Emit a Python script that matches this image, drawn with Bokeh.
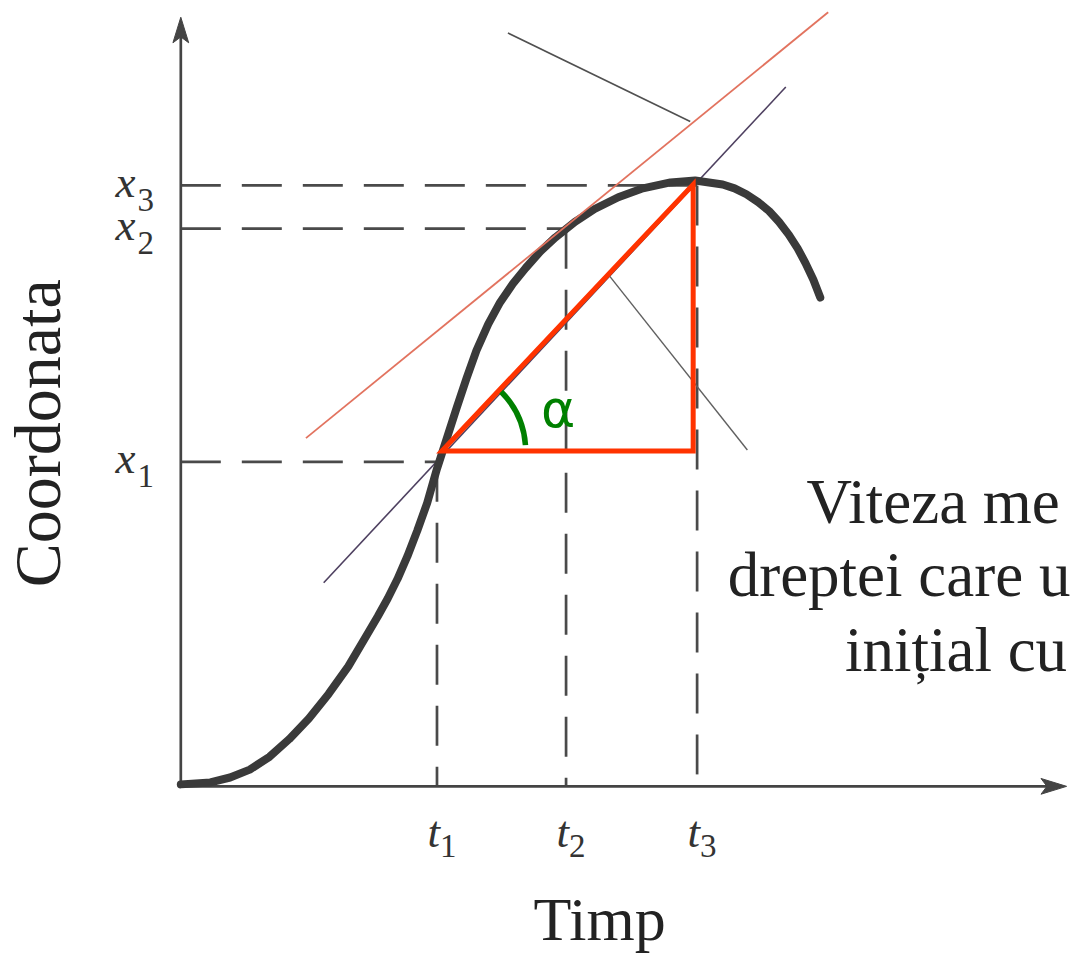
import math
from bokeh.plotting import figure
from bokeh.models import Range1d, ColumnDataSource
from bokeh.core.properties import value
from bokeh.embed import file_html
from bokeh.resources import INLINE

# ---- data (unit = 1 px of the original figure) ----
curve_t = [0, 30, 50, 70, 90, 110, 130, 150, 170, 190, 200, 210, 220, 230, 240, 250,
           260, 270, 280, 290, 300, 312, 324, 337, 350, 365, 380, 400, 420, 444, 469,
           497, 522, 550, 562, 574, 586, 597, 607, 617, 626, 634, 642, 649]
curve_x = [2, 4, 9, 17, 30, 48, 69, 94, 122, 156, 173, 191, 211, 234, 260, 288,
           323, 354, 385, 415, 443, 470, 492, 511, 527, 544, 558, 574, 587, 599, 608,
           614, 616, 612, 608, 602, 594, 585, 574, 561, 547, 532, 515, 497]

t_ticks = [260, 391, 524]          # t1, t2, t3
x_ticks = [330, 567, 611]          # x1, x2, x3
tick_subs = ["1", "2", "3"]

tangent_t = [127, 657]
tangent_x = [354, 787]
secant_t = [145, 614]
secant_x = [207, 711]
leader1_t = [332, 517]
leader1_x = [766, 676]
leader2_t = [435, 575]
leader2_x = [519, 342]

tri_t = [265, 520, 520]
tri_x = [341, 612, 341]
arc_radius = 85
arc_start_deg = 4
arc_end_deg = 45

axis_t_end = 899
axis_x_end = 782
arrow_len = 26
arrow_half = 8

note_lines = ["Viteza me", "dreptei care u", "inițial cu"]
note_t = [635, 555, 674]
note_x = [266, 192, 116]

SERIF = value("Liberation Serif")
INK = "#444444"
SHIFT = 0.36   # baseline correction (fraction of font size) for the svg text placement


def fs(px):
    return "%.1fpx" % px


p = figure(width=1073, height=956, output_backend="svg", toolbar_location=None,
           x_range=Range1d(-183, 906), y_range=Range1d(-173, 799),
           min_border=0, background_fill_color="white", border_fill_color="white")
p.xaxis.visible = False
p.yaxis.visible = False
p.xgrid.visible = False
p.ygrid.visible = False
p.outline_line_color = None

# dashed guide lines
p.multi_line(xs=[[0, t] for t in t_ticks], ys=[[x, x] for x in x_ticks],
             line_color="#4a4a4a", line_width=2.7, line_dash="40 21")
p.multi_line(xs=[[t, t] for t in t_ticks], ys=[[x, 0] for x in x_ticks],
             line_color="#4a4a4a", line_width=2.7, line_dash="40 21")

# axes with arrow heads
p.line([0, 0], [0, axis_x_end - 20], line_color=INK, line_width=2.7)
p.line([0, axis_t_end - 18], [0, 0], line_color=INK, line_width=2.7)
p.patch([0, -arrow_half, 0, arrow_half],
        [axis_x_end, axis_x_end - arrow_len, axis_x_end - arrow_len + 6, axis_x_end - arrow_len],
        fill_color=INK, line_color=INK)
p.patch([axis_t_end, axis_t_end - arrow_len, axis_t_end - arrow_len + 6, axis_t_end - arrow_len],
        [0, arrow_half, 0, -arrow_half],
        fill_color=INK, line_color=INK)

# thin lines
p.line(secant_t, secant_x, line_color="#4e4060", line_width=1.6)
p.line(leader1_t, leader1_x, line_color="#505050", line_width=1.6)
p.line(leader2_t, leader2_x, line_color="#606060", line_width=1.4)

# curve
p.line(curve_t, curve_x, line_color="#3a3a3a", line_width=8, line_join="round", line_cap="round")

# tangent (orange)
p.line(tangent_t, tangent_x, line_color="#e2735f", line_width=1.8)

# red triangle
p.patch(tri_t, tri_x, fill_color=None, line_color="#ff3300", line_width=5, line_join="miter")

# angle arc and alpha
p.arc(x=[tri_t[0]], y=[tri_x[0]], radius=arc_radius,
      start_angle=math.radians(arc_start_deg), end_angle=math.radians(arc_end_deg),
      line_color="#008000", line_width=5.5)
p.text(x=[383], y=[364], text=["α"], text_color="#008000", text_font=value("DejaVu Sans"),
       text_font_size=fs(52), text_align="center", text_baseline="alphabetic",
       y_offset=-0.38 * 52)

# tick labels: x_i on the left, t_i below
xl = ColumnDataSource(dict(t=[-46] * 3, x=[v - 13 for v in x_ticks], s=["x"] * 3))
xs = ColumnDataSource(dict(t=[-44] * 3, x=[v - 27 for v in x_ticks], s=tick_subs))
p.text(x="t", y="x", text="s", source=xl, text_font=SERIF, text_font_style="italic",
       text_font_size=fs(45), text_color="#333333", text_align="right",
       text_baseline="alphabetic", y_offset=-SHIFT * 45)
p.text(x="t", y="x", text="s", source=xs, text_font=SERIF,
       text_font_size=fs(33), text_color="#333333", text_align="left",
       text_baseline="alphabetic", y_offset=-SHIFT * 33)

tl = ColumnDataSource(dict(t=[v + 3 for v in t_ticks], x=[-63] * 3, s=["t"] * 3))
ts = ColumnDataSource(dict(t=[v + 3 for v in t_ticks], x=[-73] * 3, s=tick_subs))
p.text(x="t", y="x", text="s", source=tl, text_font=SERIF, text_font_style="italic",
       text_font_size=fs(45), text_color="#333333", text_align="right",
       text_baseline="alphabetic", y_offset=-SHIFT * 45)
p.text(x="t", y="x", text="s", source=ts, text_font=SERIF,
       text_font_size=fs(33), text_color="#333333", text_align="left",
       text_baseline="alphabetic", y_offset=-SHIFT * 33)

# axis titles
p.text(x=[425], y=[-158], text=["Timp"], text_font=SERIF, text_font_size=fs(62),
       text_color="#222222", text_align="center", text_baseline="alphabetic",
       y_offset=-SHIFT * 62)
p.text(x=[-121], y=[359], text=["Coordonata"], angle=math.pi / 2, text_font=SERIF,
       text_font_size=fs(66), text_color="#222222", text_align="center",
       text_baseline="alphabetic", x_offset=-SHIFT * 66)

# note text (cut by the page edge in the original)
p.text(x=note_t, y=note_x, text=note_lines, text_font=SERIF, text_font_size=fs(63),
       text_color="#222222", text_align="left", text_baseline="alphabetic",
       y_offset=-SHIFT * 63)

open("out.html", "w").write(file_html(p, INLINE))
